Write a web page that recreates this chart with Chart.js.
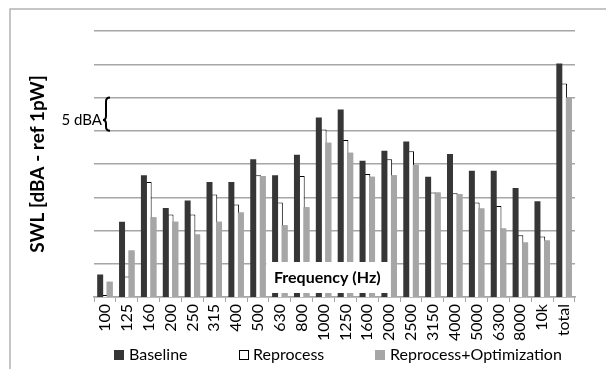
<!DOCTYPE html>
<html>
<head>
<meta charset="utf-8">
<script src="https://cdn.jsdelivr.net/npm/chart.js"></script>
<style>
  body { margin: 0; background: #fff; }
</style>
</head>
<body>
<canvas id="myChart" width="606" height="369"></canvas>
<script>
// 1/3 octave bands + overall level
var freqLabels = ["100", "125", "160", "200", "250", "315", "400", "500", "630", "800", "1000",
  "1250", "1600", "2000", "2500", "3150", "4000", "5000", "6300", "8000", "10k", "total"];
var baseline = [63.4, 71.3, 78.3, 73.4, 74.5, 77.3, 77.3, 80.7, 78.3, 81.4, 87.0,
  88.2, 80.5, 82.0, 83.4, 78.1, 81.5, 79.0, 79.0, 76.4, 74.4, 95.1];
var reprocess = [60.3, 63.1, 77.3, 72.4, 72.4, 75.4, 73.9, 78.3, 74.2, 78.2, 85.2,
  83.6, 78.5, 80.7, 81.9, 75.7, 75.6, 74.2, 73.7, 69.3, 69.1, 92.1];
var reprocessOpt = [62.3, 67.0, 72.0, 71.3, 69.4, 71.3, 72.7, 78.2, 70.8, 73.5, 83.2,
  81.7, 78.1, 78.3, 79.9, 75.7, 75.5, 73.3, 70.3, 68.2, 68.5, 90.0];
var seriesNames = ["Baseline", "Reprocess", "Reprocess+Optimization"];
var yMin = 60, yMax = 100, yStep = 5;

var fontFamily = "Lato, 'Liberation Sans', sans-serif";
// legend spots (box left, text left), like the excel legend
var legendBoxX = [114, 239, 375];
var legendTextX = [129, 253, 390];
var legendY = 355;

var extras = {
  id: "extras",
  beforeDraw: function (chart) {
    var ctx = chart.ctx;
    ctx.save();
    ctx.fillStyle = "#fff";
    ctx.fillRect(0, 0, chart.width, chart.height);
    // outer frame (runs off the right / bottom edge)
    ctx.strokeStyle = "#b3b3b3";
    ctx.lineWidth = 1.5;
    ctx.strokeRect(10, 9, chart.width + 20, chart.height + 20);
    ctx.restore();
  },
  afterDatasetsDraw: function (chart) {
    var ctx = chart.ctx;
    var area = chart.chartArea;
    var y = chart.scales.y;

    // gray bars sit in front of the white ones
    ctx.save();
    ctx.beginPath();
    ctx.rect(area.left, area.top, area.right - area.left, area.bottom - area.top);
    ctx.clip();
    chart.getDatasetMeta(2).controller.draw();
    ctx.restore();

    ctx.save();
    // "Frequency (Hz)" box inside the plot
    var cx = area.left + 0.485 * (area.right - area.left);
    var boxW = 122, boxH = 31;
    var boxBottom = area.bottom - 4;
    ctx.fillStyle = "#fff";
    ctx.fillRect(cx - boxW / 2, boxBottom - boxH, boxW, boxH);
    ctx.fillStyle = "#000";
    ctx.font = "bold 16px " + fontFamily;
    ctx.textAlign = "center";
    ctx.textBaseline = "middle";
    ctx.fillText("Frequency (Hz)", cx, boxBottom - boxH / 2);

    // 5 dBA brace between two grid lines
    var top = y.getPixelForValue(90);
    var bot = y.getPixelForValue(85);
    var tip = top + 0.68 * (bot - top);
    var xr = area.left + 16, xs = area.left + 12, xt = area.left + 9;
    ctx.strokeStyle = "#000";
    ctx.lineWidth = 2;
    ctx.beginPath();
    ctx.moveTo(xr, top);
    ctx.quadraticCurveTo(xs, top, xs, top + 4);
    ctx.lineTo(xs, tip - 4);
    ctx.quadraticCurveTo(xs, tip, xt, tip);
    ctx.quadraticCurveTo(xs, tip, xs, tip + 4);
    ctx.lineTo(xs, bot - 4);
    ctx.quadraticCurveTo(xs, bot, xr, bot);
    ctx.stroke();
    ctx.font = "15px " + fontFamily;
    ctx.textAlign = "right";
    ctx.fillText("5 dBA", xt - 1, tip);
    ctx.restore();
  },
  afterDraw: function (chart) {
    var ctx = chart.ctx;
    ctx.save();
    ctx.font = "16px " + fontFamily;
    ctx.textBaseline = "middle";
    ctx.textAlign = "left";
    chart.data.datasets.forEach(function (ds, i) {
      ctx.fillStyle = ds.backgroundColor;
      ctx.fillRect(legendBoxX[i], legendY - 5, 10, 10);
      if (ds.borderWidth) {
        ctx.strokeStyle = ds.borderColor;
        ctx.lineWidth = 1;
        ctx.strokeRect(legendBoxX[i] + 0.5, legendY - 4.5, 9, 9);
      }
      ctx.fillStyle = "#000";
      ctx.fillText(ds.label, legendTextX[i], legendY);
    });
    ctx.restore();
  }
};

new Chart("myChart", {
  type: "bar",
  data: {
    labels: freqLabels,
    datasets: [
      {
        label: seriesNames[0],
        data: baseline,
        backgroundColor: "#363636",
        borderWidth: 0
      },
      {
        label: seriesNames[1],
        data: reprocess,
        backgroundColor: "#ffffff",
        borderColor: "#000000",
        borderWidth: 1
      },
      {
        label: seriesNames[2],
        data: reprocessOpt,
        backgroundColor: "#a6a6a6",
        borderWidth: 0
      }
    ]
  },
  options: {
    responsive: false,
    animation: false,
    datasets: {
      bar: { categoryPercentage: 0.652, barPercentage: 1.26 }
    },
    layout: { padding: { left: 22, top: 31, right: 31, bottom: 0 } },
    scales: {
      x: {
        grid: { offset: true, drawOnChartArea: false, color: "#a6a6a6", tickLength: 5 },
        border: { color: "#a6a6a6", width: 1.5 },
        ticks: {
          color: "#000",
          font: { family: fontFamily, size: 16 },
          maxRotation: 90,
          minRotation: 90,
          autoSkip: false,
          padding: 2
        },
        afterFit: function (scale) { scale.height = 72; }
      },
      y: {
        min: yMin,
        max: yMax,
        ticks: { display: false, stepSize: yStep },
        grid: { color: "#a6a6a6", lineWidth: 1.5, drawTicks: false },
        border: { display: false },
        title: {
          display: true,
          text: "SWL [dBA - ref 1pW]",
          color: "#000",
          font: { family: fontFamily, size: 19, weight: "bold" }
        },
        afterFit: function (scale) { scale.width = 72; }
      }
    },
    plugins: {
      tooltip: { enabled: false },
      legend: { display: false }
    }
  },
  plugins: [extras]
});
</script>
</body>
</html>
